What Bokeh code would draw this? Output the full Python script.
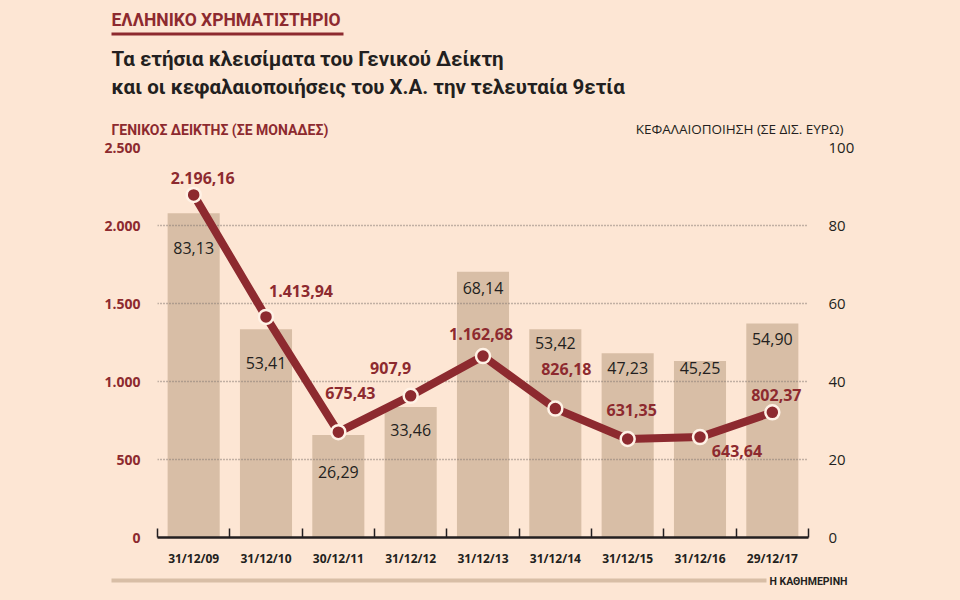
from bokeh.plotting import figure
from bokeh.layouts import column
from bokeh.models import (Range1d, LinearAxis, FixedTicker, ColumnDataSource, Grid)
from bokeh.core.properties import value
from bokeh.embed import file_html
from bokeh.resources import INLINE

# ---------------- data ----------------
dates = ["31/12/09", "31/12/10", "30/12/11", "31/12/12", "31/12/13",
         "31/12/14", "31/12/15", "31/12/16", "29/12/17"]
index_close = [2196.16, 1413.94, 675.43, 907.9, 1162.68, 826.18, 631.35, 643.64, 802.37]
index_labels = ["2.196,16", "1.413,94", "675,43", "907,9", "1.162,68",
                "826,18", "631,35", "643,64", "802,37"]
market_cap = [83.13, 53.41, 26.29, 33.46, 68.14, 53.42, 47.23, 45.25, 54.90]
cap_labels = ["83,13", "53,41", "26,29", "33,46", "68,14", "53,42", "47,23", "45,25", "54,90"]
left_ticks = [0, 500, 1000, 1500, 2000, 2500]
left_tick_labels = ["0", "500", "1.000", "1.500", "2.000", "2.500"]
right_ticks = [0, 20, 40, 60, 80, 100]
right_tick_labels = ["0", "20", "40", "60", "80", "100"]

kicker = "ΕΛΛΗΝΙΚΟ ΧΡΗΜΑΤΙΣΤΗΡΙΟ"
title_lines = ["Τα ετήσια κλεισίματα του Γενικού Δείκτη",
               "και οι κεφαλαιοποιήσεις του Χ.Α. την τελευταία 9ετία"]
left_title = "ΓΕΝΙΚΟΣ ΔΕΙΚΤΗΣ (ΣΕ ΜΟΝΑΔΕΣ)"
right_title = "ΚΕΦΑΛΑΙΟΠΟΙΗΣΗ (ΣΕ ΔΙΣ. ΕΥΡΩ)"
source_text = "Η ΚΑΘΗΜΕΡΙΝΗ"

# label placement (screen pixel offsets)
idx_dx = [9, 35, 12, -20, -2, 11, 4, 37, 4]
idx_dy = [-17, -26, -39, -28, -22, -40, -29, 14, -17]
cap_dy = [35, 34, 37, 23, 16, 14, 15, 7, 16]

# ---------------- style ----------------
BG = "#fde6d4"
RED = "#8d2a2f"
BAR = "#d8bea6"
GRID = "#857b74"
DARK = "#231f20"
FONT = "Open Sans"
TFONT = "Roboto"

W = 960
TOP_H = 138          # header figure height
FOOT_H = 30          # footer figure height
FL, FR = 157, 808    # chart frame left/right (canvas px)
FT, FB = 147, 537    # chart frame top/bottom (canvas px)
CH = 600 - TOP_H - FOOT_H


def plain_fig(height, y0):
    f = figure(width=W, height=height, output_backend="svg", toolbar_location=None,
               x_range=Range1d(0, W), y_range=Range1d(y0 + height, y0),
               x_axis_type=None, y_axis_type=None, min_border=0, title_location=None)
    f.background_fill_color = BG
    f.border_fill_color = BG
    f.outline_line_color = None
    f.xgrid.visible = False
    f.ygrid.visible = False
    return f


# ---------------- header figure ----------------
top = plain_fig(TOP_H, 0)
top.text(x=[111], y=[19], text=[kicker], text_font=value(TFONT), text_font_style="bold",
         text_font_size="17.5px", text_color=RED, text_baseline="middle")
top.segment(x0=[111], x1=[343], y0=[33.5], y1=[33.5], line_color=RED, line_width=3)
top.text(x=[111, 111], y=[58, 86], text=title_lines, text_font=value(TFONT),
         text_font_style="bold", text_font_size="20.5px", text_color=DARK, text_baseline="middle")
top.text(x=[111], y=[129], text=[left_title], text_font=value(TFONT), text_font_style="bold",
         text_font_size="14px", text_color=RED, text_baseline="middle")
top.text(x=[843], y=[128], text=[right_title], text_font=value(FONT),
         text_font_size="13.5px", text_color=DARK, text_baseline="middle", text_align="right")

# ---------------- chart figure ----------------
p = figure(width=W, height=CH, output_backend="svg", toolbar_location=None,
           title_location=None,
           x_range=Range1d(-0.5, len(dates) - 0.5), y_range=Range1d(0, 2500),
           min_border_left=FL, min_border_right=W - FR, min_border_top=FT - TOP_H,
           min_border_bottom=(TOP_H + CH) - FB, x_axis_type=None, y_axis_type=None)
p.background_fill_color = BG
p.border_fill_color = BG
p.outline_line_color = None
p.extra_y_ranges = {"cap": Range1d(0, 100)}

xs = list(range(len(dates)))
src = ColumnDataSource(dict(x=xs, idx=index_close, cap=market_cap,
                            idx_lab=index_labels, cap_lab=cap_labels,
                            dx=idx_dx, dy=idx_dy, cdy=cap_dy))

p.vbar(x="x", top="cap", width=0.72, source=src, y_range_name="cap",
       fill_color=BAR, line_color=None, level="image")

xaxis = LinearAxis(ticker=FixedTicker(ticks=xs, minor_ticks=[i - 0.5 for i in range(len(dates) + 1)]))
xaxis.major_label_overrides = {i: d for i, d in enumerate(dates)}
xaxis.major_tick_line_color = None
xaxis.minor_tick_in = 9
xaxis.minor_tick_out = 0
xaxis.minor_tick_line_color = DARK
xaxis.minor_tick_line_width = 1.5
xaxis.axis_line_color = DARK
xaxis.axis_line_width = 2.5
xaxis.major_label_text_font = FONT
xaxis.major_label_text_font_style = "bold"
xaxis.major_label_text_font_size = "12px"
xaxis.major_label_text_color = DARK
xaxis.major_label_standoff = 6
p.add_layout(xaxis, "below")

yleft = LinearAxis(ticker=FixedTicker(ticks=left_ticks))
yleft.major_label_overrides = dict(zip(left_ticks, left_tick_labels))
yleft.axis_line_color = None
yleft.major_tick_line_color = None
yleft.minor_tick_line_color = None
yleft.major_label_text_font = FONT
yleft.major_label_text_font_style = "bold"
yleft.major_label_text_font_size = "14px"
yleft.major_label_text_color = RED
yleft.major_label_standoff = 11
p.add_layout(yleft, "left")

yright = LinearAxis(y_range_name="cap", ticker=FixedTicker(ticks=right_ticks))
yright.major_label_overrides = dict(zip(right_ticks, right_tick_labels))
yright.axis_line_color = None
yright.major_tick_line_color = None
yright.minor_tick_line_color = None
yright.major_label_text_font = FONT
yright.major_label_text_font_size = "15px"
yright.major_label_text_color = DARK
yright.major_label_standoff = 14
p.add_layout(yright, "right")

grid = Grid(dimension=1, ticker=FixedTicker(ticks=left_ticks[1:]))
grid.grid_line_color = GRID
grid.grid_line_dash = "1 2"
grid.grid_line_width = 1.3
p.add_layout(grid, "center")

p.line(x="x", y="idx", source=src, line_color=RED, line_width=8)
p.scatter(x="x", y="idx", source=src, size=14, fill_color=RED,
          line_color="#fff2e6", line_width=2.5)

p.text(x="x", y="idx", text="idx_lab", source=src, x_offset="dx", y_offset="dy",
       text_font=value(FONT), text_font_style="bold", text_font_size="16px",
       text_color=RED, text_align="center", text_baseline="middle")
p.text(x="x", y="cap", text="cap_lab", source=src, y_range_name="cap", y_offset="cdy",
       text_font=value(FONT), text_font_size="16px",
       text_color=DARK, text_align="center", text_baseline="middle")

# ---------------- footer figure ----------------
foot = plain_fig(FOOT_H, 600 - FOOT_H)
foot.segment(x0=[111], x1=[766], y0=[580], y1=[580], line_color=BAR, line_width=4)
foot.text(x=[847], y=[581], text=[source_text], text_font=value(TFONT), text_font_style="bold",
          text_font_size="10.5px", text_color=DARK, text_baseline="middle", text_align="right")

# keep each figure's frame independent inside the column
for f in (top, p, foot):
    try:
        f.frame_align = False
    except Exception:
        pass

layout = column(top, p, foot, spacing=0, styles={"background-color": BG})
open("out.html", "w").write(file_html(layout, INLINE))
